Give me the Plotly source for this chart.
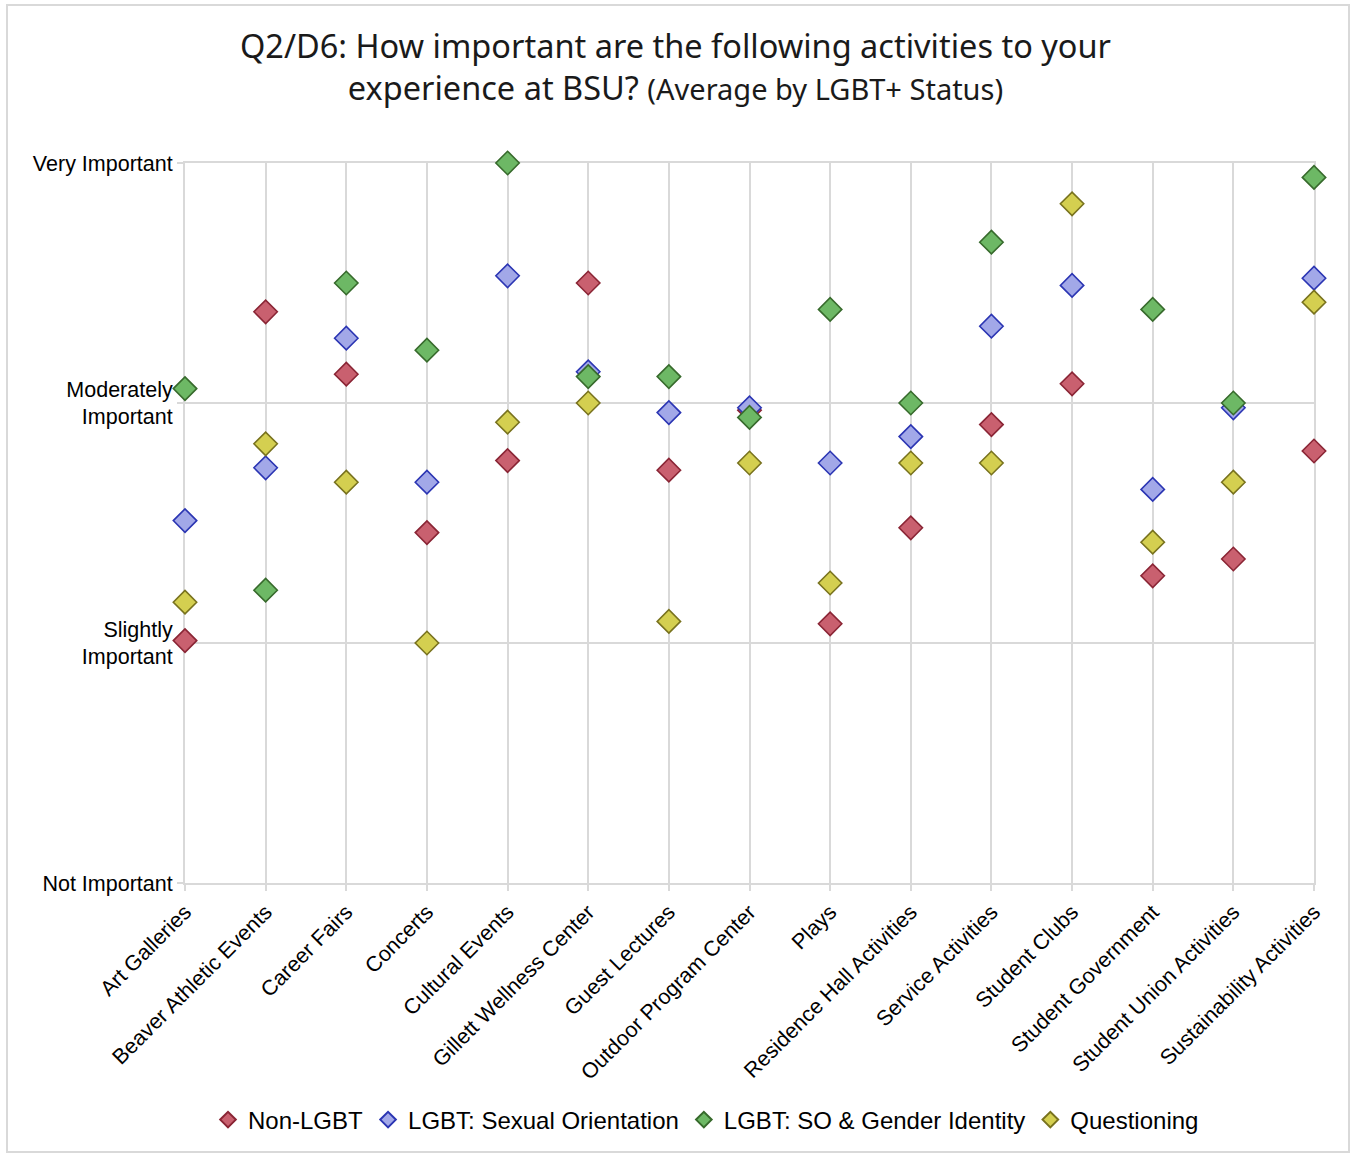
import plotly.graph_objects as go

categories = ["Art Galleries", "Beaver Athletic Events", "Career Fairs", "Concerts",
              "Cultural Events", "Gillett Wellness Center", "Guest Lectures",
              "Outdoor Program Center", "Plays", "Residence Hall Activities",
              "Service Activities", "Student Clubs", "Student Government",
              "Student Union Activities", "Sustainability Activities"]

non_lgbt = [2.01, 3.38, 3.12, 2.46, 2.76, 3.50, 2.72, 2.97, 2.08, 2.48, 2.91, 3.08, 2.28, 2.35, 2.80]
lgbt_so = [2.51, 2.73, 3.27, 2.67, 3.53, 3.13, 2.96, 2.98, 2.75, 2.86, 3.32, 3.49, 2.64, 2.98, 3.52]
lgbt_so_gi = [3.06, 2.22, 3.50, 3.22, 4.00, 3.11, 3.11, 2.94, 3.39, 3.00, 3.67, None, 3.39, 3.00, 3.94]
questioning = [2.17, 2.83, 2.67, 2.00, 2.92, 3.00, 2.09, 2.75, 2.25, 2.75, 2.75, 3.83, 2.42, 2.67, 3.42]

y_tickvals = [1, 2, 3, 4]
y_ticktext = ["Not Important", "Slightly<br>Important", "Moderately<br>Important", "Very Important"]

series = [
    ("Non-LGBT", non_lgbt, "#C9606F", "#8A2535"),
    ("LGBT: Sexual Orientation", lgbt_so, "#A2A8E8", "#2B35B3"),
    ("LGBT: SO & Gender Identity", lgbt_so_gi, "#6DB865", "#376A2C"),
    ("Questioning", questioning, "#D4CF50", "#78721E"),
]

xs = list(range(len(categories)))
fig = go.Figure()
for name, vals, fill, edge in series:
    fig.add_trace(go.Scatter(
        x=xs, y=vals, mode="markers", name=name,
        marker=dict(symbol="diamond", size=18, color=fill, line=dict(color=edge, width=1.6)),
        cliponaxis=False,
    ))

W, H = 1351, 1155
L, R, T, B = 185, 37, 163, 272
pw, ph = W - L - R, H - T - B

def px_x(p):
    return (p - L) / pw

def px_y(p):
    return (H - B - p) / ph

GRID = "#D9D9D9"
TICKFONT = dict(size=21.5, family="Liberation Sans, Arial, sans-serif", color="#000")

fig.update_layout(
    width=W, height=H,
    margin=dict(l=L, r=R, t=T, b=B),
    paper_bgcolor="white", plot_bgcolor="white",
    title=dict(
        text="Q2/D6: How important are the following activities to your<br>experience at BSU? <span style='font-size:29px'>(Average by LGBT+ Status)</span>",
        x=0.5, xanchor="center", y=1 - 58 / H, yanchor="middle",
        font=dict(family="Noto Sans, DejaVu Sans, sans-serif", size=32.5, color="#1a1a1a"),
    ),
    font=dict(family="Liberation Sans, Arial, sans-serif", color="#000000"),
    xaxis=dict(
        range=[0, 14], tickmode="array", tickvals=xs, ticktext=categories,
        tickangle=-45, tickfont=TICKFONT,
        showgrid=True, gridcolor=GRID, gridwidth=2,
        ticks="outside", ticklen=6, tickcolor=GRID, tickwidth=2,
        showline=True, linecolor=GRID, linewidth=2, mirror=True, zeroline=False,
        layer="below traces",
    ),
    yaxis=dict(
        range=[1, 4], tickmode="array", tickvals=y_tickvals, ticktext=y_ticktext,
        tickfont=TICKFONT,
        showgrid=True, gridcolor=GRID, gridwidth=2,
        ticks="outside", ticklen=6, tickcolor=GRID, tickwidth=2,
        showline=True, linecolor=GRID, linewidth=2, mirror=True, zeroline=False,
        layer="below traces",
    ),
    legend=dict(
        orientation="h", x=px_x(706), xanchor="center", y=px_y(1120), yanchor="middle",
        font=dict(size=24, family="Liberation Sans, Arial, sans-serif", color="#000"),
        itemsizing="constant", bgcolor="rgba(0,0,0,0)",
    ),
    showlegend=True,
    shapes=[dict(
        type="rect", xref="paper", yref="paper",
        x0=px_x(7), x1=px_x(1349), y0=px_y(1152), y1=px_y(5),
        line=dict(color=GRID, width=2), fillcolor="rgba(0,0,0,0)", layer="below",
    )],
)

fig.write_html("out.html")
